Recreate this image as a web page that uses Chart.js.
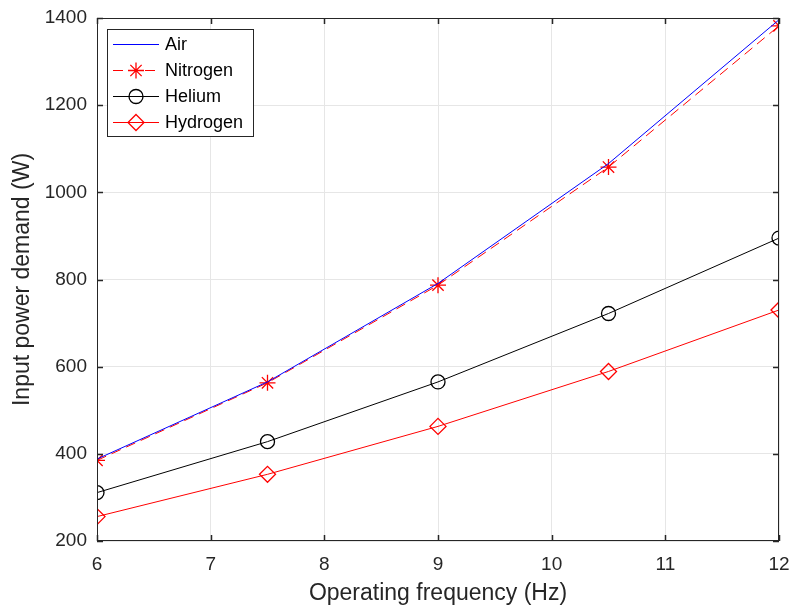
<!DOCTYPE html>
<html>
<head>
<meta charset="utf-8">
<script src="https://cdn.jsdelivr.net/npm/chart.js@4/dist/chart.umd.min.js"></script>
<style>
  html, body { margin: 0; padding: 0; background: #fff; }
  canvas { display: block; }
</style>
</head>
<body>
<canvas id="chart" width="789" height="607"></canvas>
<script>
const frequency = [6, 7.5, 9, 10.5, 12]
const air = [388, 565, 791, 1066, 1396]
const nitrogen = [385, 563, 787, 1058, 1382]
const helium = [311, 428, 565, 722, 895]
const hydrogen = [256, 353, 463, 589, 730]

const FONT = 'Arial, "Liberation Sans", Helvetica, sans-serif'
const AXIS = '#262626'

function pts(values) {
  return frequency.map((f, i) => ({ x: f, y: values[i] }))
}

// MATLAB style marker, used for the legend samples
function drawMarker(ctx, style, x, y, r, color) {
  ctx.save()
  ctx.strokeStyle = color
  ctx.lineWidth = 1.3
  ctx.setLineDash([])
  ctx.beginPath()
  if (style === 'star') {
    for (let k = 0; k < 4; k++) {
      const a = k * Math.PI / 4
      ctx.moveTo(x - r * Math.sin(a), y - r * Math.cos(a))
      ctx.lineTo(x + r * Math.sin(a), y + r * Math.cos(a))
    }
  } else if (style === 'circle') {
    ctx.arc(x, y, r, 0, Math.PI * 2)
  } else if (style === 'rectRot') {
    ctx.moveTo(x, y - r); ctx.lineTo(x + r, y); ctx.lineTo(x, y + r); ctx.lineTo(x - r, y); ctx.closePath()
  }
  ctx.stroke()
  ctx.restore()
}

const matlabBox = {
  id: 'matlabBox',
  afterDatasetsDraw(chart) {
    const { ctx, chartArea: a, scales } = chart
    ctx.save()
    ctx.strokeStyle = AXIS
    ctx.lineWidth = 1
    ctx.strokeRect(a.left + 0.5, a.top + 0.5, a.right - a.left - 1, a.bottom - a.top - 1)
    ctx.lineWidth = 1.5
    ctx.beginPath()
    scales.x.ticks.forEach(t => {
      const px = Math.round(scales.x.getPixelForValue(t.value)) + 0.5
      ctx.moveTo(px, a.bottom); ctx.lineTo(px, a.bottom - 6)
      ctx.moveTo(px, a.top); ctx.lineTo(px, a.top + 6)
    })
    scales.y.ticks.forEach(t => {
      const py = Math.round(scales.y.getPixelForValue(t.value)) + 0.5
      ctx.moveTo(a.left, py); ctx.lineTo(a.left + 6, py)
      ctx.moveTo(a.right, py); ctx.lineTo(a.right - 6, py)
    })
    ctx.stroke()

    // legend box
    const lx = 107, ly = 29, lw = 146, lh = 107
    ctx.fillStyle = '#fff'
    ctx.fillRect(lx, ly, lw, lh)
    ctx.lineWidth = 1
    ctx.strokeStyle = AXIS
    ctx.strokeRect(lx + 0.5, ly + 0.5, lw, lh)
    ctx.font = '18px ' + FONT
    ctx.textBaseline = 'middle'
    chart.data.datasets.forEach((ds, i) => {
      const y = ly + 15 + i * 26
      ctx.save()
      ctx.strokeStyle = ds.borderColor
      ctx.lineWidth = 1
      ctx.setLineDash(ds.borderDash || [])
      ctx.beginPath()
      ctx.moveTo(lx + 6, y + 0.5); ctx.lineTo(lx + 52, y + 0.5)
      ctx.stroke()
      ctx.restore()
      if (ds.pointRadius > 0) drawMarker(ctx, ds.pointStyle, lx + 29, y + 0.5, ds.pointRadius, ds.borderColor)
      ctx.fillStyle = '#000'
      ctx.fillText(ds.label, lx + 58, y + 1)
    })
    ctx.restore()
  }
}

new Chart(document.getElementById('chart'), {
  type: 'line',
  data: {
    datasets: [
      { label: 'Air', data: pts(air), borderColor: '#0000ff', borderWidth: 1, pointRadius: 0, pointStyle: false },
      { label: 'Nitrogen', data: pts(nitrogen), borderColor: '#ff0000', borderWidth: 1, borderDash: [10, 6],
        pointStyle: 'star', pointRadius: 8, pointBorderWidth: 1.3, pointBackgroundColor: 'rgba(0,0,0,0)' },
      { label: 'Helium', data: pts(helium), borderColor: '#000000', borderWidth: 1,
        pointStyle: 'circle', pointRadius: 7, pointBorderWidth: 1.3, pointBackgroundColor: 'rgba(0,0,0,0)' },
      { label: 'Hydrogen', data: pts(hydrogen), borderColor: '#ff0000', borderWidth: 1,
        pointStyle: 'rectRot', pointRadius: 8, pointBorderWidth: 1.3, pointBackgroundColor: 'rgba(0,0,0,0)' }
    ]
  },
  options: {
    responsive: false,
    animation: false,
    layout: { padding: { top: 18, right: 10, left: 0, bottom: 0 } },
    elements: { line: { tension: 0 } },
    plugins: { legend: { display: false }, tooltip: { enabled: false } },
    scales: {
      x: {
        type: 'linear', min: 6, max: 12,
        afterFit: s => { s.height = 66; s.paddingLeft = 0; s.paddingRight = 0 },
        ticks: { stepSize: 1, padding: 12, color: AXIS, font: { family: FONT, size: 19 },
          callback: v => String(v) },
        grid: { color: '#e6e6e6', drawTicks: false },
        border: { display: false },
        title: { display: true, text: 'Operating frequency (Hz)', color: AXIS,
          font: { family: FONT, size: 23 }, padding: { top: 0, bottom: 0 } }
      },
      y: {
        type: 'linear', min: 200, max: 1400,
        afterFit: s => { s.width = 97; s.paddingTop = 0; s.paddingBottom = 0 },
        ticks: { stepSize: 200, padding: 10, color: AXIS, font: { family: FONT, size: 19 },
          callback: v => String(v) },
        grid: { color: '#e6e6e6', drawTicks: false },
        border: { display: false },
        title: { display: true, text: 'Input power demand (W)', color: AXIS,
          font: { family: FONT, size: 23 }, padding: { top: 9, bottom: 0 } }
      }
    }
  },
  plugins: [matlabBox]
})
</script>
</body>
</html>
